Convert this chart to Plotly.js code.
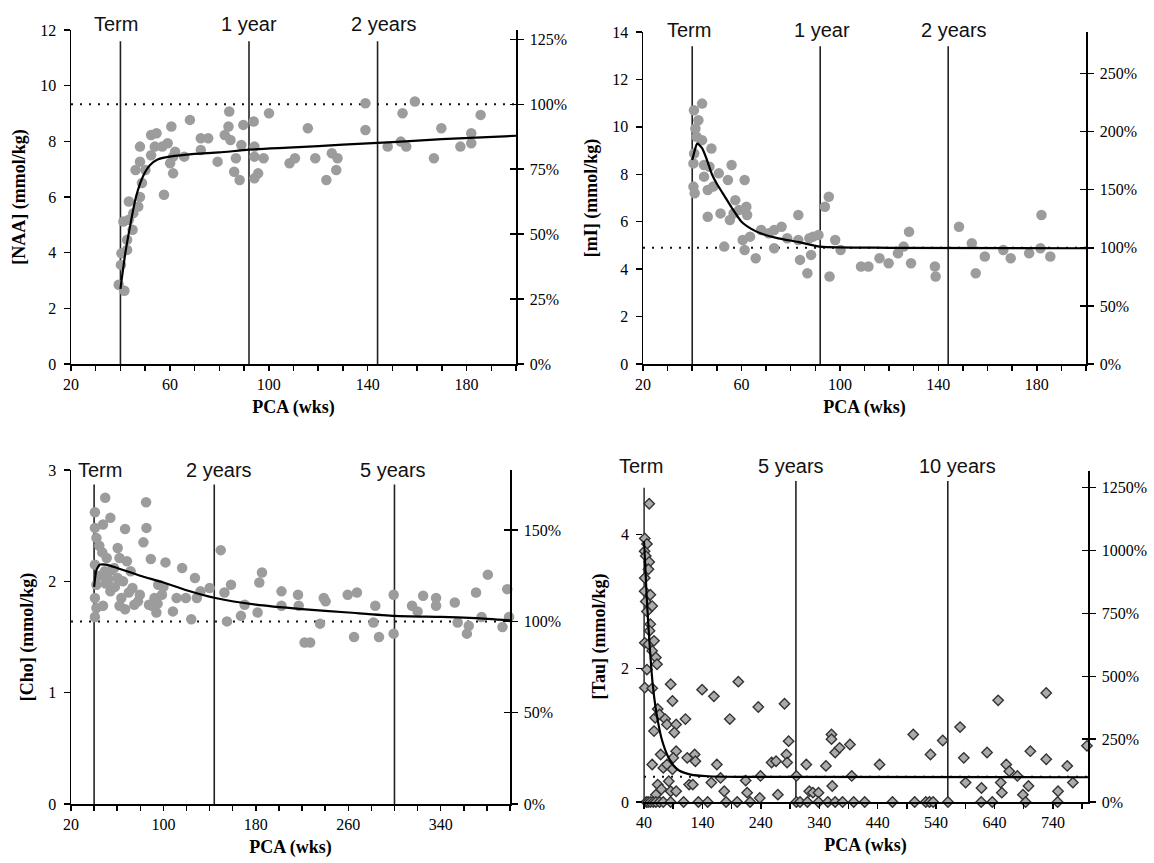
<!DOCTYPE html>
<html>
<head>
<meta charset="utf-8">
<script src="https://cdn.plot.ly/plotly-3.0.1.min.js"></script>
<style>html,body{margin:0;padding:0;background:#fff;}#chart{width:1154px;height:863px;}</style>
</head>
<body>
<div id="chart"></div>
<script>
// ---------------- DATA ----------------
// Panel A: NAA
const NAA_PCA = [39.3,41.6,40.2,40.4,42.7,41.2,43.4,42.7,44.9,45.2,43.4,47.2,47.9,48.7,46.1,47.9,47.9,50.1,52.4,52.4,54.6,53.9,57.6,56.9,59.1,60.6,60.1,61.3,62.1,61.3,65.8,68.1,72.5,72.5,75.5,79.3,82.2,84.5,84.0,83.7,86.7,86.0,88.2,89.7,88.9,93.9,94.2,94.2,94.2,95.7,97.9,100.1,108.4,110.6,115.8,118.8,123.3,125.5,127.8,127.3,139.1,139.1,148.1,153.4,154.1,155.6,159.1,166.8,169.8,177.5,181.9,181.9,185.7];
const NAA_CONC = [2.85,2.63,3.56,3.98,4.10,5.12,5.18,4.46,4.82,5.42,5.84,5.66,6.00,6.50,6.97,7.27,7.81,6.97,7.50,8.23,8.29,7.81,6.08,7.81,7.93,8.53,7.21,6.85,7.63,7.45,7.45,8.77,7.69,8.11,8.11,7.27,8.23,8.05,9.07,8.53,7.39,6.91,6.61,8.59,7.87,8.71,7.81,7.45,6.67,6.85,7.39,9.01,7.21,7.39,8.47,7.39,6.61,7.57,7.39,6.97,9.37,8.41,7.81,7.99,9.01,7.81,9.43,7.39,8.47,7.81,8.29,7.93,8.95];
const NAA_FIT_PCA = [40,42,44,46,48,50,52,55,60,70,80,92,110,130,150,170,200];
const NAA_FIT = [2.7,4.0,5.0,5.9,6.5,6.9,7.15,7.35,7.45,7.55,7.6,7.7,7.78,7.88,7.97,8.08,8.2];
const NAA_REF = 9.33;   // 100% level (mmol/kg)

// Panel B: mI
const MI_PCA = [40.7,44.0,42.5,41.3,41.8,44.0,40.5,40.8,40.5,41.0,44.8,44.8,47.8,47.0,46.3,46.3,48.5,50.8,51.5,53.0,54.5,56.0,57.5,56.8,55.3,59.0,61.3,62.0,62.3,60.5,61.3,63.5,65.8,68.0,71.1,73.3,73.3,76.3,78.6,83.1,83.1,83.8,86.8,87.6,89.1,88.3,91.3,93.9,95.5,95.8,98.1,100.3,108.6,111.6,116.1,119.8,123.6,125.9,128.1,128.9,138.6,138.9,148.4,153.6,155.2,158.9,166.4,169.4,176.9,181.9,181.5,185.5];
const MI_CONC = [10.7,10.98,10.28,9.93,9.58,9.44,8.46,8.88,7.48,7.2,8.39,7.9,9.09,8.32,7.34,6.21,7.48,8.04,6.35,4.95,7.76,8.39,6.91,6.35,6.07,6.49,7.76,6.63,6.28,5.23,4.81,5.37,4.46,5.65,5.51,4.88,5.65,5.79,5.3,6.28,5.23,4.39,3.83,5.3,5.37,4.6,5.44,6.63,7.05,3.69,5.23,4.81,4.11,4.11,4.46,4.25,4.67,4.95,5.58,4.25,4.11,3.69,5.79,5.09,3.83,4.53,4.81,4.46,4.67,6.28,4.88,4.53];
const MI_FIT_PCA = [40,41,42,44,46,48,50,53,56,60,64,68,75,83,92,120,200];
const MI_FIT = [8.6,9.0,9.3,9.1,8.6,8.0,7.6,7.1,6.6,6.0,5.7,5.5,5.3,5.15,4.95,4.9,4.88];
const MI_REF = 4.9;

// Panel C: Cho
const CHO_PCA = [40.7,49.6,40.7,42.0,44.5,40.7,42.0,40.7,42.0,40.7,47.7,54.1,47.1,49.3,52.5,50.9,54.1,47.7,57.3,60.4,62.0,60.4,63.6,66.8,62.0,66.8,68.4,71.6,73.2,74.8,79.6,82.7,85.0,85.3,89.1,87.5,92.3,93.9,95.5,98.7,101.8,108.2,111.4,116.2,119.4,124.1,127.3,128.9,132.1,140.0,149.6,152.8,155.0,158.5,167.1,170.3,181.5,183.0,185.3,202.2,202.2,216.5,217.1,222.2,227.0,235.6,238.8,240.4,259.5,267.5,265.0,283.4,281.8,286.6,299.3,299.3,315.2,320.0,324.8,336.0,336.0,352.2,354.7,362.7,364.3,370.6,375.4,380.8,393.5,397.6,399.2,45,50,55,58,65,70,78,90,95,100];
const CHO_CONC = [2.62,2.75,2.48,2.39,2.32,2.15,1.97,1.85,1.76,1.68,2.51,2.57,2.26,2.09,2.02,2.21,1.91,1.78,2.12,2.30,2.21,2.03,1.85,1.75,1.78,2.47,2.18,2.09,1.94,1.79,1.88,2.35,2.71,2.48,2.20,1.79,1.85,1.72,1.97,1.88,2.17,1.73,1.85,2.12,1.85,1.66,2.03,1.85,1.91,1.94,2.28,1.90,1.64,1.97,1.69,1.79,1.72,1.99,2.08,1.91,1.78,1.88,1.78,1.45,1.45,1.62,1.85,1.82,1.88,1.90,1.50,1.78,1.63,1.50,1.88,1.53,1.78,1.73,1.87,1.85,1.78,1.81,1.63,1.53,1.60,1.90,1.68,2.06,1.59,1.93,1.68,2.05,1.98,2.10,1.95,2.00,1.90,1.82,1.78,1.80,1.95];
const CHO_FIT_PCA = [40,42,45,50,60,80,100,120,145,180,220,260,300,340,370,400];
const CHO_FIT = [1.95,2.1,2.15,2.15,2.12,2.05,1.99,1.92,1.85,1.79,1.75,1.72,1.69,1.68,1.67,1.65];
const CHO_REF = 1.64;

// Panel D: Tau
const TAU_PCA = [48.9,41.3,45,41,43,48.9,47.6,41.3,41,50.8,43,54,45,50.8,49.5,41.3,47.6,57.1,54,60.3,62.2,45,41.3,54,63.4,59,66.6,57.1,76.1,85.6,88.7,79.2,95,91.8,110.9,68.5,54,73,79.2,95,90,88.7,82.4,63.4,69.7,85.6,60.3,95,114,126.7,127.9,139.4,159.6,117.2,123.5,164.7,155.2,171,177.3,186.8,201.4,214,216.5,235.6,239.4,238.1,258.4,266,269.1,280.5,283.7,285,287.5,300.8,317.8,322.9,329.2,338.7,351.4,360.9,360.9,362.2,367.2,374.8,392.5,395.6,443.2,500.9,530.4,551.3,581,587.4,590.5,617.7,627.2,646.2,650.6,652.5,660.1,665.2,679.1,688.6,698.1,701.3,728.5,728.5,748.7,764.5,774.1,798.2,
  44,47,50.8,55.8,60.3,66.6,72.9,85.6,107.7,133,148.9,180.5,199.5,221.6,300.8,307.1,319.7,338.7,354.6,367.2,379.9,398.9,417.8,465.3,503.3,522.3,528.6,534.9,560.3,617.2,636.2,693.2,748];
const TAU_CONC = [4.46,3.94,3.86,3.75,3.68,3.59,3.48,3.35,3.15,3.10,3.00,2.93,2.85,2.66,2.56,2.38,2.36,2.41,2.26,2.16,2.06,1.98,1.71,1.70,1.39,1.26,1.31,1.06,1.24,1.76,1.51,1.16,1.16,1.04,1.24,0.71,0.56,0.51,0.56,0.76,0.66,0.49,0.31,0.26,0.19,0.16,0.11,0.16,0.66,0.71,0.61,1.68,1.58,0.26,0.26,0.56,0.29,0.36,0.16,1.24,1.80,0.32,0.14,1.42,0.39,0.06,0.59,0.61,0.11,1.47,0.71,0.59,0.91,0.39,0.56,0.16,0.14,0.14,0.54,1.01,0.94,0.24,0.74,0.81,0.86,0.39,0.56,1.01,0.71,0.92,1.12,0.66,0.29,0.21,0.74,1.52,0.29,0.14,0.56,0.46,0.39,0.11,0.24,0.76,1.63,0.64,0.16,0.54,0.29,0.84,
  0,0,0,0,0,0,0,0,0,0,0,0,0,0,0,0,0,0,0,0,0,0,0,0,0,0,0,0,0,0,0,0,0];
const TAU_FIT_PCA = [40,45,50,55,60,65,70,80,90,100,120,150,200,800];
const TAU_FIT = [3.9,3.0,2.3,1.75,1.4,1.15,0.95,0.7,0.55,0.47,0.41,0.385,0.375,0.37];
const TAU_REF = 0.376;

// Milestones
const MS_A_PCA = [40, 92, 144];  const MS_A_LABELS = ['Term', '1 year', '2 years'];
const MS_C_PCA = [40, 144, 300]; const MS_C_LABELS = ['Term', '2 years', '5 years'];
const MS_D_PCA = [40, 300, 560]; const MS_D_LABELS = ['Term', '5 years', '10 years'];

// Tick labels
const X_TICKS_A = [20,30,40,50,60,70,80,90,100,110,120,130,140,150,160,170,180,190,200];
const X_LABELS_A = ['20','','','','60','','','','100','','','','140','','','','180','',''];
const X_TICKS_C = [20,40,60,80,100,120,140,160,180,200,220,240,260,280,300,320,340,360,380,400];
const X_LABELS_C = ['20','','','','100','','','','180','','','','260','','','','340','','',''];
const X_TICKS_D = [40,90,140,190,240,290,340,390,440,490,540,590,640,690,740,790];
const X_LABELS_D = ['40','','140','','240','','340','','440','','540','','640','','740',''];
const PCT_A = [0,25,50,75,100,125];
const PCT_B = [0,50,100,150,200,250];
const PCT_C = [0,50,100,150];
const PCT_D = [0,250,500,750,1000,1250];

// ---------------- BUILD ----------------
const W = 1154, H = 863;
const SERIF = 'Liberation Serif';
const SANS = 'Liberation Sans';
const traces = [];
const layout = {
  width: W, height: H, margin: {l:0, r:0, t:0, b:0},
  paper_bgcolor: '#fff', plot_bgcolor: 'rgba(0,0,0,0)',
  showlegend: false, annotations: [], hovermode: false
};
const key = (id) => (id[0] === 'x' ? 'xaxis' : 'yaxis') + id.slice(1);

function panel(c) {
  const xd = [c.px[0] / W, c.px[1] / W];
  const yd = [1 - c.py[1] / H, 1 - c.py[0] / H];
  const tickfont = {family: SERIF, size: 16, color: '#000'};
  layout[key(c.x)] = {
    domain: xd, anchor: c.y, range: c.xr, showgrid: false, zeroline: false,
    showline: true, linecolor: '#000', linewidth: 1.5,
    tickmode: 'array', tickvals: c.xt, ticktext: c.xl, ticks: 'outside', ticklen: 5,
    tickwidth: 1.5, tickcolor: '#000', tickfont: tickfont, automargin: false,
    title: {text: '<b>PCA (wks)</b>', font: {family: SERIF, size: 18, color: '#000'}, standoff: 8}
  };
  layout[key(c.y)] = {
    domain: yd, anchor: c.x, range: c.yr, showgrid: false, zeroline: false,
    showline: c.leftLine, linecolor: '#000', linewidth: 1.5,
    tickmode: 'array', tickvals: c.yt, ticks: 'outside', ticklen: 6, tickwidth: 1.5,
    tickcolor: '#000', tickfont: tickfont, automargin: false, ticklabelstandoff: 4,
    title: {text: '<b>' + c.ytitle + '</b>', font: {family: SERIF, size: 18, color: '#000'}, standoff: 10}
  };
  const rr = [0, c.yr[1] / c.ref * 100];
  layout[key(c.r)] = {
    overlaying: c.y, side: 'right', anchor: c.x, range: rr, showgrid: false, zeroline: false,
    showline: true, linecolor: '#000', linewidth: 1.5,
    tickmode: 'array', tickvals: c.pct, ticktext: c.pct.map(v => v + '%'), ticks: 'outside', ticklen: 6,
    tickwidth: 1.5, tickcolor: '#000', tickfont: tickfont, automargin: false, ticklabelstandoff: 3
  };
  layout[key(c.ri)] = {
    overlaying: c.y, side: 'right', anchor: c.x, range: rr, showgrid: false, zeroline: false,
    showline: false, tickmode: 'array', tickvals: c.pct, ticks: 'inside', ticklen: 6,
    tickwidth: 1.5, tickcolor: '#000', showticklabels: false, automargin: false
  };
  traces.push({type: 'scatter', x: [], y: [], xaxis: c.x, yaxis: c.r, hoverinfo: 'skip'});
  traces.push({type: 'scatter', x: [], y: [], xaxis: c.x, yaxis: c.ri, hoverinfo: 'skip'});
  // milestone lines
  c.ms.forEach((m, i) => {
    traces.push({type: 'scatter', mode: 'lines', x: [m, m], y: [0, c.msTop[i]], xaxis: c.x, yaxis: c.y,
      line: {color: '#222', width: 1.6}, hoverinfo: 'skip'});
    layout.annotations.push({xref: c.x, yref: c.y + ' domain', x: m, y: c.labY / c.yr[1], xshift: c.labShift[i],
      text: c.msl[i], showarrow: false, xanchor: 'center', yanchor: 'middle',
      font: {family: SANS, size: 20, color: '#111'}});
  });
  // 100% dotted reference
  traces.push({type: 'scatter', mode: 'lines', x: [c.xt[0], c.xr[1]], y: [c.ref, c.ref], xaxis: c.x, yaxis: c.y,
    line: {color: '#111', width: 2, dash: '2px,7px'}, hoverinfo: 'skip'});
  // data points
  traces.push({type: 'scatter', mode: 'markers', x: c.dx, y: c.dy, xaxis: c.x, yaxis: c.y,
    marker: c.marker, cliponaxis: false, hoverinfo: 'skip'});
  // fit
  traces.push({type: 'scatter', mode: 'lines', x: c.fx, y: c.fy, xaxis: c.x, yaxis: c.y,
    line: {color: '#000', width: 2.2, shape: 'spline', smoothing: 0.6}, hoverinfo: 'skip'});
}

const dot = {color: '#9c9c9c', size: 10.5, line: {width: 0}};

panel({x: 'x', y: 'y', r: 'y2', ri: 'y3', px: [71, 516], py: [30, 364], xr: [20, 200], yr: [0, 12],
  xt: X_TICKS_A, xl: X_LABELS_A, yt: [0,2,4,6,8,10,12], pct: PCT_A, ref: NAA_REF, leftLine: true,
  ytitle: '[NAA] (mmol/kg)', ms: MS_A_PCA, msl: MS_A_LABELS, msTop: [11.6, 11.6, 11.6], labY: 12.2,
  labShift: [-4, 0, 6], dx: NAA_PCA, dy: NAA_CONC, fx: NAA_FIT_PCA, fy: NAA_FIT, marker: dot});

panel({x: 'x2', y: 'y4', r: 'y5', ri: 'y6', px: [643, 1086], py: [32, 364], xr: [20, 200], yr: [0, 14],
  xt: X_TICKS_A, xl: X_LABELS_A, yt: [0,2,4,6,8,10,12,14], pct: PCT_B, ref: MI_REF, leftLine: true,
  ytitle: '[mI] (mmol/kg)', ms: MS_A_PCA, msl: MS_A_LABELS, msTop: [13.4, 13.4, 13.4], labY: 14.1,
  labShift: [-3, 2, 6], dx: MI_PCA, dy: MI_CONC, fx: MI_FIT_PCA, fy: MI_FIT, marker: dot});

panel({x: 'x3', y: 'y7', r: 'y8', ri: 'y9', px: [71, 510], py: [470, 804], xr: [20, 400], yr: [0, 3],
  xt: X_TICKS_C, xl: X_LABELS_C, yt: [0,1,2,3], pct: PCT_C, ref: CHO_REF, leftLine: true,
  ytitle: '[Cho] (mmol/kg)', ms: MS_C_PCA, msl: MS_C_LABELS, msTop: [2.87, 2.87, 2.87], labY: 3.0,
  labShift: [6, 5, -1], dx: CHO_PCA, dy: CHO_CONC, fx: CHO_FIT_PCA, fy: CHO_FIT, marker: dot});

panel({x: 'x4', y: 'y10', r: 'y11', ri: 'y12', px: [643.2, 1088], py: [471, 802], xr: [38.6, 800], yr: [0, 4.95],
  xt: X_TICKS_D, xl: X_LABELS_D, yt: [0,2,4], pct: PCT_D, ref: TAU_REF, leftLine: false,
  ytitle: '[Tau] (mmol/kg)', ms: MS_D_PCA, msl: MS_D_LABELS, msTop: [4.7, 4.8, 4.8], labY: 5.02,
  labShift: [-3, -5, 10], dx: TAU_PCA, dy: TAU_CONC, fx: TAU_FIT_PCA, fy: TAU_FIT,
  marker: {symbol: 'diamond', color: '#ababab', size: 8, line: {color: '#333', width: 1.4}}});

Plotly.newPlot('chart', traces, layout, {staticPlot: true, displayModeBar: false});
</script>
</body>
</html>
